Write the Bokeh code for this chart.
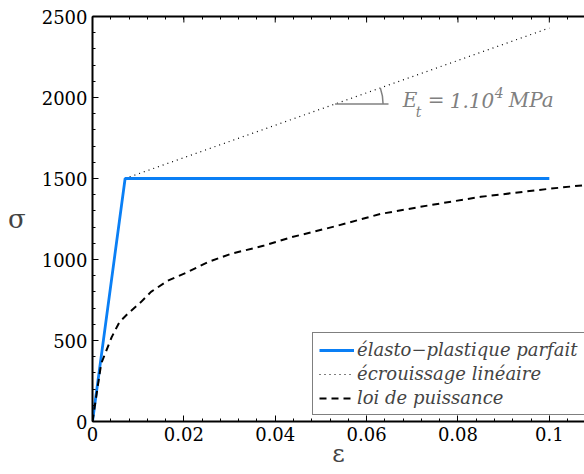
from bokeh.plotting import figure
from bokeh.models import (Range1d, LinearAxis, FixedTicker, Legend, LegendItem, Label)
from bokeh.embed import file_html
from bokeh.resources import INLINE

# ---------------- data ----------------
eps_epp = [0.0, 0.00714, 0.1]
sig_epp = [0.0, 1500.0, 1500.0]

eps_lin = [0.0, 0.00714, 0.1]
sig_lin = [0.0, 1500.0, 2429.0]

eps_pow = [0.0, 0.0008, 0.0019, 0.0042, 0.0059, 0.0077, 0.0106, 0.0128, 0.0165,
           0.0208, 0.0252, 0.0303, 0.0376, 0.0435, 0.053, 0.063, 0.074, 0.085,
           0.0995, 0.108]
sig_pow = [0.0, 152.0, 357.0, 521.0, 614.0, 665.0, 737.0, 800.0, 870.0,
           922.0, 983.0, 1035.0, 1086.0, 1137.0, 1204.0, 1281.0, 1336.0, 1387.0,
           1435.0, 1460.0]

x_ticks = [0.0, 0.02, 0.04, 0.06, 0.08, 0.1]
x_tick_labels = ["0", "0.02", "0.04", "0.06", "0.08", "0.1"]
x_minor = [round(i * 0.004, 3) for i in range(0, 27)]
y_ticks = [0, 500, 1000, 1500, 2000, 2500]
y_tick_labels = ["0", "500", "1000", "1500", "2000", "2500"]
y_minor = [i * 100 for i in range(0, 26)]

series_names = ["élasto\u2212plastique parfait", "écrouissage linéaire", "loi de puissance"]
x_title = "ε"
y_title = "σ"

# annotation of tangent modulus
ann_eps = 0.0531
ann_sig = 1960.0
ann_len = 0.0117
ann_angle = 0.34

SERIF = "DejaVu Serif"
GREY = "#808080"

X_MAX = 0.1077
Y_MAX = 2500

p = figure(width=584, height=474, output_backend="svg", toolbar_location=None,
           x_range=Range1d(0, X_MAX), y_range=Range1d(0, Y_MAX),
           min_border_left=92, min_border_right=0, min_border_top=16,
           min_border_bottom=53)
p.outline_line_color = None
p.xgrid.visible = False
p.ygrid.visible = False
p.background_fill_color = "white"
p.border_fill_color = "white"

def style_axis(ax, ticks, minor, labels, standoff=6):
    ax.ticker = FixedTicker(ticks=ticks, minor_ticks=minor)
    ax.axis_line_color = "black"
    ax.axis_line_width = 2
    ax.major_tick_in = 6
    ax.major_tick_out = 0
    ax.minor_tick_in = 3
    ax.minor_tick_out = 0
    ax.major_tick_line_color = "black"
    ax.minor_tick_line_color = "black"
    ax.major_tick_line_width = 1
    ax.minor_tick_line_width = 1
    ax.major_label_overrides = {t: l for t, l in zip(ticks, labels)}
    ax.major_label_text_font = SERIF
    ax.major_label_text_font_size = "18px"
    ax.major_label_text_color = "black"
    ax.major_label_standoff = standoff

xax = p.xaxis[0]
yax = p.yaxis[0]
style_axis(xax, x_ticks, x_minor, x_tick_labels, standoff=5)
style_axis(yax, y_ticks, y_minor, y_tick_labels, standoff=5)

xax.axis_label = x_title
xax.axis_label_text_font = SERIF
xax.axis_label_text_font_style = "normal"
xax.axis_label_text_font_size = "24px"
xax.axis_label_standoff = -4

yax.axis_label = y_title
yax.axis_label_text_font = SERIF
yax.axis_label_text_font_style = "normal"
yax.axis_label_text_font_size = "26px"
yax.axis_label_standoff = 13
yax.axis_label_orientation = "horizontal"

# top frame line with minor ticks only (no labels); major top ticks as segments
top = LinearAxis(ticker=FixedTicker(ticks=[], minor_ticks=x_minor))
top.axis_line_color = "black"
top.axis_line_width = 2
top.minor_tick_in = 3
top.minor_tick_out = 0
top.major_tick_in = 0
top.major_tick_out = 0
top.minor_tick_line_color = "black"
p.add_layout(top, "above")
tick_len = 6 * Y_MAX / 405.0
p.segment(x0=x_ticks, y0=[Y_MAX] * len(x_ticks), x1=x_ticks,
          y1=[Y_MAX - tick_len] * len(x_ticks), line_color="black", line_width=1)

# ---------------- lines ----------------
r_lin = p.line(eps_lin, sig_lin, line_color="black", line_width=1.2, line_dash="1 4")
r_epp = p.line(eps_epp, sig_epp, line_color="#0a7ff5", line_width=2.8)
r_pow = p.line(eps_pow, sig_pow, line_color="black", line_width=2, line_dash="7 5")

# ---------------- annotation ----------------
p.segment(x0=[ann_eps], y0=[ann_sig], x1=[ann_eps + ann_len], y1=[ann_sig],
          line_color=GREY, line_width=1.3)
p.arc(x=[ann_eps], y=[ann_sig], radius=48, radius_units="screen",
      start_angle=0, end_angle=ann_angle, line_color=GREY, line_width=1.5)

tx, ty = 0.0679, 1983.0
pieces = [("E", 0, 0, "20px"), ("t", 13, -12, "14px"), ("=", 25, 0, "20px"),
          ("1.10", 47, 0, "20px"), ("4", 92, 8, "14px"), ("MPa", 106, 0, "20px")]
for txt, dx, dy, fs in pieces:
    p.add_layout(Label(x=tx, y=ty, x_offset=dx, y_offset=dy, text=txt,
                       text_font=SERIF, text_font_style="italic",
                       text_font_size=fs, text_color=GREY,
                       text_baseline="alphabetic", text_align="left"))

# ---------------- legend ----------------
legend = Legend(items=[LegendItem(label=series_names[0], renderers=[r_epp]),
                       LegendItem(label=series_names[1], renderers=[r_lin]),
                       LegendItem(label=series_names[2], renderers=[r_pow])],
                location=(220, 6))
legend.border_line_color = "black"
legend.border_line_width = 1
legend.background_fill_color = "white"
legend.background_fill_alpha = 1
legend.label_text_font = SERIF
legend.label_text_font_style = "italic"
legend.label_text_font_size = "18px"
legend.label_height = 20
legend.glyph_height = 20
legend.glyph_width = 35
legend.label_standoff = 3
legend.spacing = 3
legend.padding = 6
legend.margin = 0
p.add_layout(legend, "center")

open("out.html", "w").write(file_html(p, INLINE))
